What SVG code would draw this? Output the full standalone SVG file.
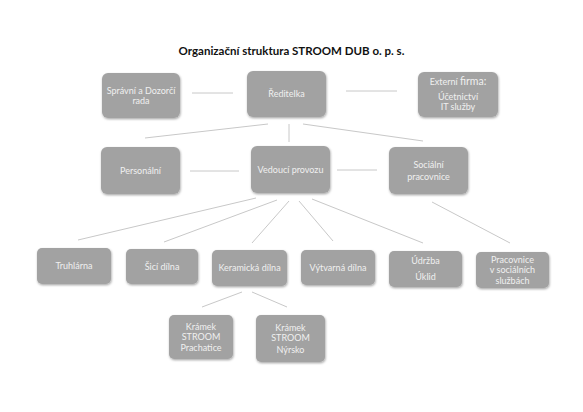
<svg xmlns="http://www.w3.org/2000/svg" width="583" height="412" viewBox="0 0 583 412">
<defs>
<filter id="sh" x="-10%" y="-10%" width="130%" height="140%">
<feDropShadow dx="0.6" dy="1.2" stdDeviation="0.8" flood-color="#000" flood-opacity="0.35"/>
</filter>
</defs>
<style>
.box{fill:#a2a2a2;filter:url(#sh)}
.t{font-family:Lato,"Open Sans","Liberation Sans",sans-serif;font-size:9px;fill:#f0f0f0;text-anchor:middle}
.title{font-family:Lato,"Open Sans","Liberation Sans",sans-serif;font-size:11.5px;font-weight:bold;fill:#111;text-anchor:middle}
.c line{stroke:#c8c8c8;stroke-width:1}
</style>
<rect width="583" height="412" fill="#fff"/>
<text class="title" x="291.5" y="55">Organizační struktura STROOM DUB o. p. s.</text>
<g class="c" id="connectors">
<line x1="192" y1="93" x2="233" y2="93"/>
<line x1="346" y1="91" x2="397" y2="91"/>
<line x1="268" y1="124" x2="145" y2="138"/>
<line x1="289" y1="124" x2="289" y2="142"/>
<line x1="303" y1="124" x2="423" y2="141"/>
<line x1="190" y1="171" x2="239" y2="171"/>
<line x1="337" y1="170" x2="377" y2="170"/>
<line x1="256" y1="198" x2="78" y2="240"/>
<line x1="277" y1="200" x2="164" y2="242"/>
<line x1="289" y1="201" x2="252" y2="243"/>
<line x1="299" y1="201" x2="333" y2="241"/>
<line x1="312" y1="199" x2="423" y2="243"/>
<line x1="432" y1="202" x2="510" y2="243"/>
<line x1="242" y1="292" x2="202" y2="307"/>
<line x1="252" y1="292" x2="287" y2="307"/>
</g>
<g id="spravni"><rect class="box" x="102" y="73" width="78" height="45" rx="6"/><text class="t" x="141" y="94">Správní a Dozorčí</text><text class="t" x="141" y="104">rada</text></g>
<g id="reditelka"><rect class="box" x="247" y="71" width="79" height="46" rx="6"/><text class="t" x="286.5" y="97">Ředitelka</text></g>
<g id="externi"><rect class="box" x="418" y="72" width="80" height="45" rx="6"/><text class="t" x="458" y="85">Externí <tspan font-size="10.5">firma:</tspan></text><text class="t" x="458" y="100">Účetnictví</text><text class="t" x="458" y="110">IT služby</text></g>
<g id="personalni"><rect class="box" x="101" y="147" width="79" height="47" rx="6"/><text class="t" x="140.5" y="174">Personální</text></g>
<g id="vedouci"><rect class="box" x="251" y="146" width="79" height="47" rx="6"/><text class="t" x="290.5" y="173">Vedoucí provozu</text></g>
<g id="socialni"><rect class="box" x="389" y="147" width="79" height="47" rx="6"/><text class="t" x="428.5" y="168">Sociální</text><text class="t" x="428.5" y="180">pracovnice</text></g>
<g id="truhlarna"><rect class="box" x="37" y="248" width="74" height="36" rx="5"/><text class="t" x="74" y="269">Truhlárna</text></g>
<g id="sici"><rect class="box" x="126" y="249" width="72" height="35" rx="5"/><text class="t" x="162" y="269.5">Šicí dílna</text></g>
<g id="keramicka"><rect class="box" x="212" y="250" width="75" height="36" rx="5"/><text class="t" x="249.5" y="271">Keramická dílna</text></g>
<g id="vytvarna"><rect class="box" x="301" y="250" width="74" height="35" rx="5"/><text class="t" x="338" y="270.5">Výtvarná dílna</text></g>
<g id="udrzba"><rect class="box" x="389" y="251" width="73" height="36" rx="5"/><text class="t" x="425.5" y="264">Údržba</text><text class="t" x="425.5" y="280">Úklid</text></g>
<g id="pracovnice"><rect class="box" x="476" y="252" width="73" height="36" rx="5"/><text class="t" x="512.5" y="263">Pracovnice</text><text class="t" x="512.5" y="273">v sociálních</text><text class="t" x="512.5" y="284">službách</text></g>
<g id="prachatice"><rect class="box" x="169" y="315" width="64" height="44" rx="5"/><text class="t" x="201" y="330">Krámek</text><text class="t" x="201" y="340">STROOM</text><text class="t" x="201" y="351">Prachatice</text></g>
<g id="nyrsko"><rect class="box" x="256" y="315" width="69" height="47" rx="5"/><text class="t" x="290.5" y="331">Krámek</text><text class="t" x="290.5" y="341">STROOM</text><text class="t" x="290.5" y="353">Nýrsko</text></g>
</svg>
